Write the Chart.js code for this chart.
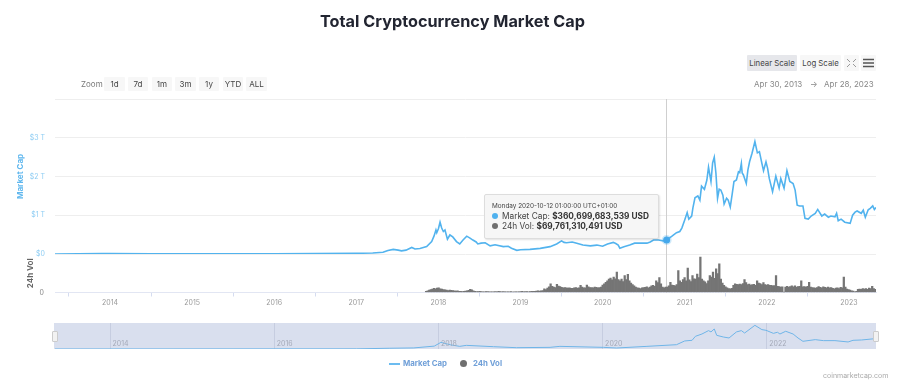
<!DOCTYPE html>
<html><head><meta charset="utf-8">
<script src="https://cdn.jsdelivr.net/npm/chart.js@4"></script>
<style>
html,body{margin:0;padding:0;background:#fff}
body{width:900px;height:390px;position:relative;overflow:hidden;font-family:Inter,sans-serif}
#main{position:absolute;left:0;top:0}
#nav{position:absolute;left:54px;top:323px;background:#d9dfee}
.t{position:absolute;white-space:nowrap;line-height:1}
.btn{position:absolute;top:77px;height:14px;background:#f7f7f7;border-radius:1px;font-size:8px;line-height:14px;text-align:center;color:#444}
.top{top:55px;height:16px;line-height:16px;font-size:7.8px}
.hd{position:absolute;top:331px;width:4px;height:9px;background:#f2f2f2;border:1px solid #ccc;border-radius:1px}
#tip{position:absolute;left:484px;top:194px;width:173px;height:43px;background:#f6f6f6;border:1px solid #ddd;border-radius:2px;box-shadow:1px 1px 2px rgba(0,0,0,.12)}
.dot{position:absolute;width:6px;height:6px;border-radius:50%}
</style></head><body>
<canvas id="main" width="900" height="390"></canvas>
<canvas id="nav" width="822" height="26"></canvas>
<div class="hd" style="left:52px"></div><div class="hd" style="left:873px"></div>
<div class="t" id="title" style="left:320px;top:13px;font-size:16.25px;font-weight:700;color:#222531"></div>

<div class="t" style="left:81px;top:80px;font-size:8px;color:#777">Zoom</div>
<div class="btn" style="left:104px;width:21px">1d</div>
<div class="btn" style="left:128px;width:20px">7d</div>
<div class="btn" style="left:152px;width:20px">1m</div>
<div class="btn" style="left:175px;width:21px">3m</div>
<div class="btn" style="left:199px;width:20px">1y</div>
<div class="btn" style="left:223px;width:20px">YTD</div>
<div class="btn" style="left:246px;width:21px">ALL</div>

<div class="btn top" style="left:747px;width:50px;background:#e6e7eb">Linear Scale</div>
<div class="btn top" style="left:800px;width:41px">Log Scale</div>
<div class="btn top" style="left:844px;width:15px">
<svg width="15" height="16" style="display:block" fill="none" stroke="#999" stroke-width="1"><path d="M3 4l3 3M12 4l-3 3M3 12l3-3M12 12l-3-3"/></svg></div>
<div class="btn top" style="left:861px;width:15px">
<svg width="15" height="16" style="display:block" stroke="#555" stroke-width="1.4"><path d="M2 4.5h11M2 8h11M2 11.500h11"/></svg></div>
<div class="t" style="left:754px;top:80px;font-size:8px;color:#888">Apr 30, 2013</div>
<div class="t" style="left:810px;top:80px;font-size:8px;color:#888">→</div>
<div class="t" style="left:824px;top:80px;font-size:8px;color:#888">Apr 28, 2023</div>

<div id="tip">
<div class="t" style="left:7px;top:8px;font-size:6.4px;color:#444">Monday 2020-10-12 01:00:00 UTC+01:00</div>
<div class="dot" style="left:7px;top:18px;background:#4fb1ee"></div>
<div class="t" style="left:17px;top:17px;font-size:8.3px;color:#444">Market Cap: <b style="color:#333">$360,699,683,539 USD</b></div>
<div class="dot" style="left:7px;top:28px;background:#6f6f6f"></div>
<div class="t" style="left:17px;top:27px;font-size:8.3px;color:#444">24h Vol: <b style="color:#333">$69,761,310,491 USD</b></div>
</div>

<div style="position:absolute;left:389px;top:363px;width:11px;height:2px;background:#6cbcf0"></div>
<div class="t" id="leg0" style="left:403px;top:360px;font-size:7.8px;font-weight:700;color:#6f9fd8"></div>
<div style="position:absolute;left:460px;top:360px;width:7px;height:7px;border-radius:50%;background:#6f6f6f"></div>
<div class="t" id="leg1" style="left:473px;top:360px;font-size:7.8px;font-weight:700;color:#6f9fd8"></div>
<div class="t" style="left:823px;top:372px;font-size:7px;color:#aaa">coinmarketcap.com</div>

<script>
const capYears=[2013.33,2013.9,2014.0,2014.5,2015.0,2015.5,2016.0,2016.5,2017.0,2017.2,2017.325,2017.385,2017.45,2017.51,2017.55,2017.605,2017.675,2017.715,2017.775,2017.857,2017.918,2017.946,2017.97,2017.98,2018.0,2018.02,2018.04,2018.06,2018.08,2018.11,2018.14,2018.175,2018.22,2018.26,2018.30,2018.345,2018.385,2018.42,2018.46,2018.48,2018.52,2018.57,2018.63,2018.69,2018.79,2018.85,2018.89,2018.955,2019.0,2019.115,2019.24,2019.36,2019.44,2019.50,2019.53,2019.56,2019.63,2019.685,2019.76,2019.85,2019.93,2020.0,2020.06,2020.13,2020.16,2020.19,2020.21,2020.26,2020.33,2020.39,2020.46,2020.54,2020.58,2020.62,2020.68,2020.74,2020.78,2020.845,2020.90,2020.94,2020.965,2021.0,2021.03,2021.05,2021.085,2021.10,2021.125,2021.16,2021.185,2021.205,2021.24,2021.27,2021.29,2021.32,2021.34,2021.36,2021.38,2021.40,2021.42,2021.44,2021.465,2021.48,2021.51,2021.53,2021.555,2021.58,2021.60,2021.63,2021.655,2021.67,2021.69,2021.70,2021.715,2021.75,2021.77,2021.79,2021.82,2021.855,2021.885,2021.91,2021.94,2021.96,2021.99,2022.01,2022.03,2022.07,2022.11,2022.15,2022.17,2022.21,2022.245,2022.28,2022.32,2022.345,2022.37,2022.40,2022.44,2022.465,2022.505,2022.54,2022.59,2022.62,2022.67,2022.705,2022.75,2022.78,2022.83,2022.85,2022.87,2022.905,2022.95,2023.015,2023.045,2023.075,2023.10,2023.15,2023.175,2023.20,2023.235,2023.26,2023.29,2023.31,2023.33];
const capValues=[0.0015,0.012,0.01,0.008,0.005,0.004,0.007,0.01,0.018,0.025,0.044,0.09,0.12,0.10,0.08,0.10,0.17,0.13,0.14,0.19,0.32,0.46,0.62,0.55,0.65,0.82,0.67,0.58,0.62,0.38,0.49,0.44,0.32,0.26,0.36,0.46,0.41,0.36,0.31,0.26,0.28,0.29,0.21,0.24,0.19,0.20,0.15,0.095,0.11,0.12,0.145,0.19,0.26,0.34,0.30,0.29,0.31,0.28,0.23,0.21,0.23,0.20,0.26,0.30,0.27,0.23,0.15,0.19,0.23,0.28,0.28,0.28,0.31,0.36,0.36,0.34,0.36,0.46,0.55,0.58,0.67,0.88,1.07,0.90,0.98,1.19,1.45,1.50,1.39,1.75,1.67,1.91,2.24,1.87,2.35,2.50,2.09,1.44,1.67,1.65,1.52,1.29,1.44,1.39,1.21,1.57,1.87,1.91,2.12,2.10,2.34,2.09,2.04,1.82,2.17,2.38,2.60,2.90,2.61,2.64,2.34,2.15,2.38,2.21,1.95,1.61,2.01,1.70,1.95,1.70,2.15,1.87,1.82,1.65,1.26,1.24,1.24,0.92,0.90,0.98,1.05,1.15,0.98,1.03,0.95,0.98,0.96,1.05,0.86,0.90,0.82,0.79,1.0,1.08,1.11,1.05,1.13,0.95,1.14,1.18,1.24,1.15,1.20];
// Coarser series of the overview strip
const navYears=[2013.33,2017.0,2017.4,2017.7,2017.95,2018.03,2018.15,2018.26,2018.34,2018.67,2018.95,2019.36,2019.48,2020.01,2020.17,2020.54,2020.90,2021.00,2021.09,2021.13,2021.21,2021.29,2021.32,2021.36,2021.39,2021.47,2021.54,2021.63,2021.69,2021.73,2021.855,2021.94,2021.99,2022.08,2022.13,2022.16,2022.23,2022.32,2022.38,2022.44,2022.59,2022.69,2022.83,2022.99,2023.05,2023.155,2023.32];
const navValues=[0.002,0.02,0.09,0.13,0.35,0.8,0.5,0.32,0.44,0.28,0.16,0.20,0.32,0.20,0.12,0.32,0.52,0.97,1.05,1.53,1.81,2.22,2.06,2.42,1.65,1.45,1.33,2.06,2.22,1.93,2.86,2.34,2.26,1.89,2.02,1.81,2.14,1.81,1.33,0.93,1.13,1.01,1.01,0.85,1.05,1.09,1.25];
// 24h volume in billions of USD, roughly one value a week from late 2017
const volStartYear=2017.85;
const volStepYears=0.0192;
const volValues=[14,22,30,38,45,52,48,55,60,48,42,38,34,30,26,32,28,24,20,18,22,16,14,12,15,18,22,28,40,34,22,16,13,12,14,11,10,9,11,13,10,9,8,10,12,9,14,11,8,13,9,7,10,8,12,6,8,9,7,10,12,14,9,11,13,10,12,14,16,15,18,20,19,22,26,48,38,55,72,110,80,70,62,105,82,74,66,60,62,58,56,60,54,52,58,62,56,60,90,68,60,58,95,72,64,62,58,70,66,60,62,68,95,110,130,150,170,185,160,195,175,260,165,150,170,140,215,165,230,150,120,100,85,70,60,55,50,58,62,65,72,60,70,85,90,80,150,125,190,110,70,60,70,70,85,130,95,90,85,100,280,150,130,165,190,150,310,160,140,215,175,170,235,190,450,170,150,135,115,150,215,195,260,180,300,240,365,170,120,90,72,58,50,46,52,90,110,105,100,108,100,115,165,125,100,108,95,100,105,92,150,120,112,100,125,100,95,100,90,92,85,88,215,78,75,70,72,5,68,78,70,75,85,72,85,68,75,80,150,72,75,68,78,130,68,62,58,55,62,75,65,60,72,65,60,68,60,62,52,48,55,60,50,65,60,195,70,42,38,32,22,18,10,15,40,45,40,50,45,50,40,55,50,80,50,40,35,40,45,45];
const xTickYears=[2014,2015,2016,2017,2018,2019,2020,2021,2022,2023];
const navTickYears=[2014,2016,2018,2020,2022];
const capTicks=[0,1,2,3,4];
const capTickLabels=['$0','$1 T','$2 T','$3 T',''];
const hoverYear=2020.78, hoverCap=0.3607;
const seriesNames=['Market Cap','24h Vol'];
const chartTitle='Total Cryptocurrency Market Cap';

document.getElementById('title').textContent=chartTitle;
document.getElementById('leg0').textContent=seriesNames[0];
document.getElementById('leg1').textContent=seriesNames[1];

const capColor='#52b3ee', volColor='#757575', font='Inter, sans-serif';
Chart.defaults.font.family=font;
Chart.defaults.devicePixelRatio=1;
const capPts=capYears.map((x,i)=>({x,y:capValues[i]}));
const navPts=navYears.map((x,i)=>({x,y:navValues[i]}));
const volPts=volValues.map((y,i)=>({x:volStartYear+i*volStepYears,y}));
const setTicks=arr=>s=>{s.ticks=arr.map(value=>({value}))};

const crosshair={id:'crosshair',beforeDatasetsDraw(c){
  const x=Math.floor(c.scales.x.getPixelForValue(hoverYear))+.5,{top,bottom}=c.chartArea,g=c.ctx;
  g.save();g.strokeStyle='#cfcfcf';g.lineWidth=1;g.beginPath();g.moveTo(x,top);g.lineTo(x,bottom);g.stroke();g.restore();
}};
const navLabels={id:'navLabels',afterDraw(c){
  const g=c.ctx;g.save();g.fillStyle='#a4a9b8';g.font='7px '+font;g.textBaseline='middle';
  navTickYears.forEach(v=>g.fillText(String(v),c.scales.x.getPixelForValue(v)+2.500,20.500));g.restore();
}};

new Chart(document.getElementById('main'),{
  data:{datasets:[
    {type:'line',label:seriesNames[0],data:capPts,yAxisID:'cap',borderColor:capColor,borderWidth:1.6,pointRadius:0,tension:0,order:2},
    {type:'bar',label:seriesNames[1],data:volPts,yAxisID:'vol',backgroundColor:volColor,barThickness:1.6,order:3},
    {type:'scatter',label:'hover',data:[{x:hoverYear,y:hoverCap}],yAxisID:'cap',pointRadius:3.5,pointBackgroundColor:'#45a8ec',pointBorderColor:'rgba(79,177,238,.28)',pointBorderWidth:3,order:1}
  ]},
  plugins:[crosshair],
  options:{
    responsive:false,animation:false,events:[],
    layout:{padding:{left:0,right:24,top:99,bottom:0}},
    plugins:{tooltip:{enabled:false},title:{display:false},legend:{display:false}},
    scales:{
      x:{type:'linear',position:'bottom',min:2013.33,max:2023.33,offset:false,
        afterBuildTicks:setTicks(xTickYears),afterFit:s=>{s.height=97.5},
        ticks:{autoSkip:false,maxRotation:0,color:'#999',font:{size:7},padding:2,callback:v=>String(v)},
        grid:{drawOnChartArea:false,drawTicks:true,tickLength:4,color:'#d5dcf0'},
        border:{color:'#e2e6f3',width:1}},
      vol:{type:'linear',position:'left',stack:'left',stackWeight:38.5,min:0,max:490,
        afterBuildTicks:setTicks([0]),afterFit:s=>{s.width=55},
        ticks:{autoSkip:false,color:'#888',font:{size:7},padding:11,callback:v=>String(v)},
        grid:{color:'#e2e6f3',drawTicks:false},border:{display:false},
        title:{display:true,text:seriesNames[1],color:'#666',font:{size:8,weight:'700'},padding:{top:26,bottom:0}}},
      cap:{type:'linear',position:'left',stack:'left',stackWeight:155,min:0,max:4,
        afterBuildTicks:setTicks(capTicks),afterFit:s=>{s.width=55},
        ticks:{autoSkip:false,color:'#8fcdf3',font:{size:7},padding:10,callback:v=>capTickLabels[capTicks.indexOf(v)]},
        grid:{color:'#eeeeee',drawTicks:false},border:{display:false},
        title:{display:true,text:seriesNames[0],color:'#5fb7ee',font:{size:8,weight:'700'},padding:{top:16,bottom:0}}}
    }
  }
});

new Chart(document.getElementById('nav'),{
  type:'line',
  data:{datasets:[{label:seriesNames[0],data:navPts,borderColor:'#6fb5e8',borderWidth:1,pointRadius:0,tension:0}]},
  plugins:[navLabels],
  options:{
    responsive:false,animation:false,events:[],
    layout:{padding:{left:1,right:0,top:0,bottom:0}},
    plugins:{legend:{display:false},tooltip:{enabled:false},title:{display:false}},
    scales:{
      x:{type:'linear',position:'bottom',min:2013.33,max:2023.33,
        afterBuildTicks:setTicks(navTickYears),afterFit:s=>{s.height=0},
        ticks:{display:false},
        grid:{color:'#c6cde0',drawTicks:false},border:{display:false}},
      y:{display:false,min:0,max:3.14}
    }
  }
});
</script>
</body></html>
